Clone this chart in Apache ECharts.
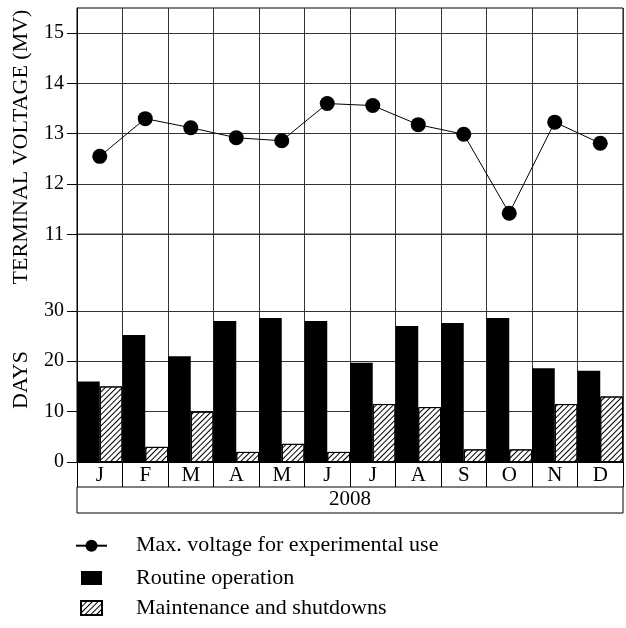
<!DOCTYPE html>
<html>
<head>
<meta charset="utf-8">
<script src="https://cdn.jsdelivr.net/npm/echarts@6/dist/echarts.min.js"></script>
<style>
html,body{margin:0;padding:0;background:#fff;}
#chart{width:626px;height:628px;}
</style>
</head>
<body>
<div id="chart"></div>
<script>
const months = ['J','F','M','A','M','J','J','A','S','O','N','D'];
const yearLabel = ['2008'];
const maxVoltage = [12.55, 13.30, 13.12, 12.92, 12.86, 13.60, 13.56, 13.18, 12.99, 11.42, 13.23, 12.81];
const routineDays = [16, 25.2, 21, 28, 28.6, 28, 19.7, 27, 27.6, 28.6, 18.6, 18.1];
const maintenanceDays = [15, 3, 10, 2, 3.6, 2, 11.5, 10.9, 2.5, 2.5, 11.5, 13];
const voltageTicks = [11, 12, 13, 14, 15];
const dayTicks = [0, 10, 20, 30];
const dayGridLines = [10, 20, 30];

const FONT = "'Liberation Serif', 'DejaVu Serif', serif";
const GRID_C = '#333';

const chart = echarts.init(document.getElementById('chart'), null, {renderer: 'canvas'});

const option = {
  animation: false,
  backgroundColor: '#fff',
  textStyle: {fontFamily: FONT, color: '#000'},
  grid: [
    {left: 77, right: 3, top: 8, height: 226.3, show: true, borderColor: '#000', borderWidth: 1, containLabel: false},
    {left: 77, right: 3, top: 234.3, height: 227.7, show: true, borderColor: '#000', borderWidth: 1, containLabel: false},
    {left: 77, right: 3, top: 487, height: 26, show: true, borderColor: '#000', borderWidth: 1, containLabel: false}
  ],
  xAxis: [
    {
      gridIndex: 0, type: 'category', data: months, boundaryGap: true,
      axisLine: {show: false}, axisTick: {show: false}, axisLabel: {show: false},
      splitLine: {show: true, interval: 0, lineStyle: {color: GRID_C, width: 1}}
    },
    {
      gridIndex: 1, type: 'category', data: months, boundaryGap: true,
      axisLine: {show: true, lineStyle: {color: '#000', width: 1}},
      axisTick: {show: true, interval: 0, length: 25, lineStyle: {color: '#000', width: 1}},
      axisLabel: {show: true, interval: 0, margin: 3, fontFamily: FONT, fontSize: 21, color: '#000'},
      splitLine: {show: true, interval: 0, lineStyle: {color: GRID_C, width: 1}}
    },
    {
      gridIndex: 2, type: 'category', data: yearLabel, position: 'bottom',
      axisLine: {show: false}, axisTick: {show: false},
      axisLabel: {show: true, inside: true, margin: 3, fontFamily: FONT, fontSize: 21, color: '#000'},
      splitLine: {show: false}
    }
  ],
  yAxis: [
    {
      gridIndex: 0, type: 'value', min: 11, max: 15.5, interval: 1,
      axisLine: {show: true, lineStyle: {color: '#000'}},
      axisTick: {show: true, length: 10, customValues: voltageTicks, lineStyle: {color: '#000'}},
      axisLabel: {show: true, customValues: voltageTicks, margin: 13, fontFamily: FONT, fontSize: 20, color: '#000'},
      splitLine: {show: true, lineStyle: {color: GRID_C, width: 1}}
    },
    {
      gridIndex: 1, type: 'value', min: 0, max: 45.2, interval: 10,
      axisLine: {show: true, lineStyle: {color: '#000'}},
      axisTick: {show: true, length: 10, customValues: dayTicks, lineStyle: {color: '#000'}},
      axisLabel: {show: true, customValues: dayTicks, margin: 13, fontFamily: FONT, fontSize: 20, color: '#000'},
      splitLine: {show: false}
    },
    {
      gridIndex: 2, type: 'value', min: 0, max: 1, show: false
    }
  ],
  legend: [
    {
      orient: 'vertical', left: 75, top: 533.7, padding: 0,
      itemWidth: 31, itemHeight: 15, itemGap: 6,
      data: ['Max. voltage for experimental use'],
      textStyle: {fontFamily: FONT, fontSize: 22, color: '#000', lineHeight: 24, padding: [0, 0, 0, 24]}
    },
    {
      orient: 'vertical', left: 80, top: 566, padding: 0,
      itemWidth: 21, itemHeight: 14, itemGap: 6,
      data: [
        {name: 'Routine operation', icon: 'rect'},
        {name: 'Maintenance and shutdowns', icon: 'rect'}
      ],
      textStyle: {fontFamily: FONT, fontSize: 22, color: '#000', lineHeight: 24, padding: [0, 0, 0, 29]}
    }
  ],
  graphic: [
    {
      type: 'text', x: 21, y: 147, rotation: Math.PI / 2,
      style: {text: 'TERMINAL VOLTAGE (MV)', font: "22px 'Liberation Serif', serif", fill: '#000', align: 'center', verticalAlign: 'middle'}
    },
    {
      type: 'text', x: 21, y: 380, rotation: Math.PI / 2,
      style: {text: 'DAYS', font: "22px 'Liberation Serif', serif", fill: '#000', align: 'center', verticalAlign: 'middle'}
    }
  ],
  series: [
    {
      name: 'Max. voltage for experimental use', type: 'line',
      xAxisIndex: 0, yAxisIndex: 0, data: maxVoltage,
      symbol: 'circle', symbolSize: 15,
      lineStyle: {color: '#000', width: 1},
      itemStyle: {color: '#000'},
      z: 5
    },
    {
      name: 'Routine operation', type: 'bar',
      xAxisIndex: 1, yAxisIndex: 1, data: routineDays,
      barGap: '0%', barCategoryGap: '0%',
      itemStyle: {color: '#000', borderColor: '#000', borderWidth: 0},
      markLine: {
        silent: true, symbol: 'none', z: 1,
        label: {show: false},
        lineStyle: {color: GRID_C, width: 1, type: 'solid'},
        data: dayGridLines.map(v => ({yAxis: v}))
      }
    },
    {
      name: 'Maintenance and shutdowns', type: 'bar',
      xAxisIndex: 1, yAxisIndex: 1, data: maintenanceDays,
      barGap: '0%', barCategoryGap: '0%',
      itemStyle: {
        color: '#fff', borderColor: '#000', borderWidth: 1,
        decal: {symbol: 'rect', symbolSize: 1, color: '#000', dashArrayX: [1, 0], dashArrayY: [1, 3], rotation: -Math.PI / 4}
      }
    }
  ]
};

chart.setOption(option);
</script>
</body>
</html>
